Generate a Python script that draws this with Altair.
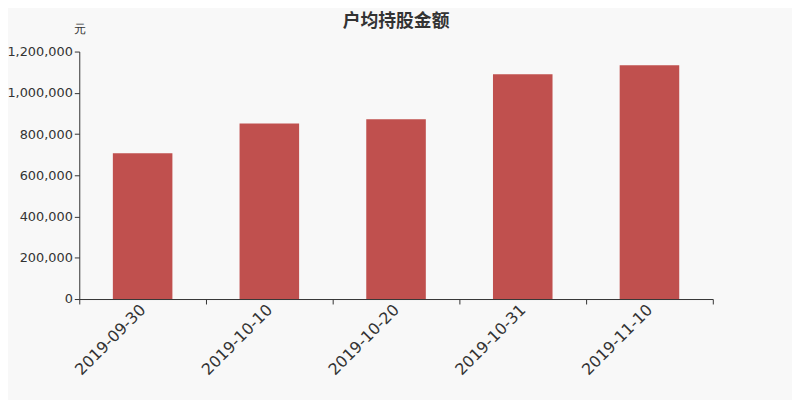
import altair as alt
import pandas as pd

dates = ["2019-09-30", "2019-10-10", "2019-10-20", "2019-10-31", "2019-11-10"]
values = [707000, 851000, 872000, 1090000, 1133000]

df = pd.DataFrame({"date": dates, "value": values})

FONT = "DejaVu Sans"

bars = alt.Chart(df).mark_bar(color="#c0504e", width=alt.RelativeBandSize(0.47)).encode(
    x=alt.X("date:N", sort=dates, title=None,
            scale=alt.Scale(paddingInner=0, paddingOuter=0),
            axis=alt.Axis(tickBand="extent", labelAngle=-45, labelAlign="right",
                          labelBaseline="middle", labelFontSize=16, labelColor="#333333",
                          labelFont=FONT, domainColor="#333333", tickColor="#333333",
                          tickSize=5, labelPadding=3, grid=False)),
    y=alt.Y("value:Q", title="元",
            scale=alt.Scale(domain=[0, 1200000], nice=False),
            axis=alt.Axis(values=[0, 200000, 400000, 600000, 800000, 1000000, 1200000],
                          format=",d", labelFontSize=13, labelColor="#333333", labelFont=FONT,
                          domainColor="#333333", tickColor="#333333", tickSize=5,
                          grid=False, titleAngle=0, titleX=0, titleY=-16,
                          titleAlign="center", titleBaseline="bottom",
                          titleFontSize=12, titleFontWeight="normal", titleColor="#333333",
                          titleFont=FONT)),
)

chart = bars.properties(
    width=640, height=250,
    title=alt.TitleParams("户均持股金额", fontSize=18, fontWeight="bold", color="#333333",
                          font="Noto Sans CJK SC", anchor="middle", offset=0, dy=8),
    background="#f8f8f8",
    padding={"left": 72, "top": 42, "right": 80, "bottom": 100},
    autosize=alt.AutoSizeParams(type="none"),
).configure_view(stroke=None)

chart.save("out.html", embed_options={"renderer": "svg", "actions": False})
